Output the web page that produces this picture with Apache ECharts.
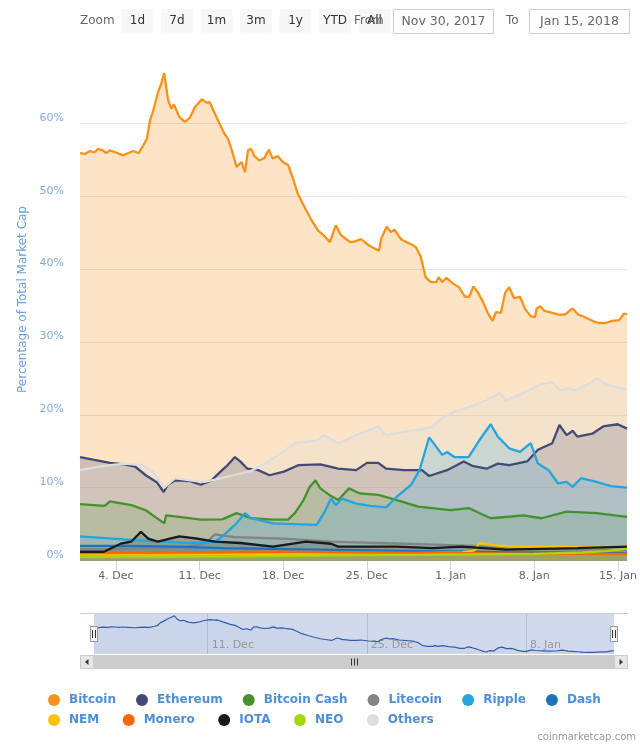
<!DOCTYPE html>
<html><head><meta charset="utf-8">
<script src="https://cdn.jsdelivr.net/npm/echarts@6/dist/echarts.min.js"></script>
<style>html,body{margin:0;padding:0;background:#fff}#c{width:640px;height:747px}</style>
</head><body><div id="c"></div>
<script>
// x values are days since Dec 1, 2017 00:00; y values are % of total market cap
const seriesNames = ['Bitcoin','Ethereum','Bitcoin Cash','Litecoin','Ripple','Dash','NEM','Monero','IOTA','NEO','Others'];
const seriesColors = ['#f7931a','#454a75','#45902f','#838383','#25a5de','#1c75bc','#fcc400','#ff6600','#1a1a1a','#a8d610','#dddddd'];

const bitcoin = [[0,55.9],[0.4,55.8],[0.83,56.2],[1.2,56.0],[1.5,56.5],[1.9,56.3],[2.2,55.9],[2.5,56.3],[3.0,56.0],[3.6,55.6],[4.0,55.9],[4.45,56.2],[4.9,55.9],[5.3,57.0],[5.6,57.9],[5.85,60.4],[6.1,61.6],[6.5,64.1],[6.8,65.5],[7.04,66.9],[7.37,63.2],[7.65,62.0],[7.85,62.6],[8.3,60.9],[8.76,60.2],[9.2,60.8],[9.6,62.2],[10.2,63.3],[10.6,62.8],[10.85,62.9],[11.4,60.9],[12.0,58.8],[12.4,57.8],[12.7,56.3],[13.1,54.0],[13.5,54.7],[13.8,53.3],[14.05,56.3],[14.3,56.5],[14.6,55.5],[15.0,54.9],[15.4,55.2],[15.8,56.4],[16.1,55.2],[16.55,55.5],[16.97,54.7],[17.4,54.3],[17.8,52.5],[18.2,50.4],[18.9,48.1],[19.3,46.9],[19.9,45.3],[20.4,44.6],[20.9,43.7],[21.4,46.0],[21.8,44.7],[22.2,44.2],[22.6,43.7],[23.0,43.8],[23.5,44.1],[24.2,43.2],[25.0,42.5],[25.2,44.2],[25.65,45.8],[26.0,45.1],[26.3,45.4],[26.85,44.1],[27.3,43.7],[27.7,43.4],[28.1,43.0],[28.5,41.7],[28.9,38.9],[29.35,38.2],[29.8,38.2],[30.0,38.9],[30.3,38.2],[30.65,38.8],[31.2,38.0],[31.7,37.5],[32.2,36.2],[32.55,36.2],[32.9,37.6],[33.25,36.9],[33.7,35.5],[34.1,34.0],[34.5,32.9],[34.8,34.1],[35.2,34.0],[35.55,36.7],[35.9,37.5],[36.3,36.0],[36.8,36.2],[37.2,34.6],[37.7,33.5],[38.05,33.4],[38.2,34.6],[38.5,34.9],[38.8,34.3],[39.5,34.0],[40.1,33.7],[40.6,33.8],[41.2,34.6],[41.7,33.7],[42.1,33.5],[42.6,33.1],[43.0,32.8],[43.4,32.6],[43.96,32.6],[44.5,32.9],[45.1,33.0],[45.5,33.9],[45.75,33.8]];
const ethereum = [[0,14.2],[1.2,13.8],[2.5,13.4],[3.7,13.2],[4.6,12.9],[5.5,11.7],[6.45,10.7],[7.0,9.4],[7.35,10.4],[7.96,11.0],[9.2,10.9],[10.1,10.4],[11.0,11.0],[11.75,12.2],[12.35,13.1],[12.96,14.2],[13.4,13.6],[14.0,12.6],[14.9,12.4],[15.85,11.7],[17.05,12.2],[18.3,13.1],[20.1,13.2],[21.6,12.6],[23.1,12.4],[24.0,13.4],[24.95,13.4],[25.6,12.6],[27.1,12.4],[28.6,12.4],[29.2,11.6],[30.7,12.4],[32.1,13.6],[32.8,13.0],[34.0,12.6],[34.95,13.3],[35.9,13.1],[37.4,13.6],[38.3,15.2],[39.5,16.1],[40.1,18.6],[40.7,17.2],[41.2,17.8],[41.6,17.0],[42.85,17.4],[43.75,18.4],[44.97,18.7],[45.75,18.1]];
const bitcoinCash = [[0,7.75],[2.05,7.5],[2.5,8.1],[4.3,7.6],[5.5,6.9],[7.05,5.1],[7.2,6.2],[8.3,6.0],[10.1,5.6],[11.9,5.65],[13.1,6.5],[14.3,5.8],[16.15,5.6],[17.4,5.6],[17.97,6.5],[18.7,8.3],[19.2,10.1],[19.7,11.0],[20.1,9.9],[20.85,9.0],[21.6,8.3],[22.5,9.9],[23.4,9.2],[24.95,9.0],[26.5,8.3],[28.3,7.4],[31.0,6.9],[32.5,7.2],[34.35,5.8],[37.1,6.2],[38.6,5.8],[40.7,6.7],[43.2,6.5],[45.75,6.0]];
const litecoin = [[0,1.6],[3,1.6],[6,1.7],[9,1.9],[10.5,2.4],[11.3,3.6],[12,3.4],[13,3.2],[15,3.1],[17,3.0],[19,2.8],[21,2.6],[23,2.5],[25,2.4],[27,2.3],[29,2.2],[31,2.1],[33,2.0],[35,1.8],[37,1.7],[39,1.6],[41,1.5],[43,1.4],[45.75,1.4]];
const ripple = [[0,3.3],[3.7,2.9],[6.75,2.6],[9.2,2.4],[11.3,2.6],[11.9,3.3],[13.1,5.1],[13.8,6.5],[14.3,5.8],[16.15,5.1],[17.97,5.0],[19.8,4.9],[20.4,6.5],[21.0,8.5],[21.4,7.6],[21.9,8.5],[23.1,7.8],[24.3,7.5],[25.6,7.3],[26.5,8.75],[27.7,10.4],[28.4,12.4],[28.9,15.2],[29.2,16.9],[29.8,15.6],[30.3,14.5],[30.7,14.9],[31.3,14.2],[32.5,14.2],[33.4,16.5],[34.35,18.7],[34.95,17.0],[35.9,15.4],[36.8,14.9],[37.7,16.1],[38.3,13.3],[39.2,12.4],[39.97,10.6],[40.7,10.8],[41.2,10.1],[41.9,11.3],[43.2,10.8],[44.4,10.2],[45.75,10.0]];
const dash = [[0,2.0],[4,2.0],[8,1.9],[12,1.7],[16,1.6],[20,1.5],[24,1.4],[28,1.3],[32,1.2],[36,1.1],[40,1.1],[45.75,1.0]];
const nem = [[0,0.8],[10,0.8],[20,0.9],[28,1.0],[32,1.1],[33.0,1.4],[33.4,2.4],[34.5,2.1],[36,1.9],[38,1.9],[40,1.9],[42,1.8],[44,1.9],[45.75,2.0]];
const monero = [[0,1.0],[8,1.1],[16,1.2],[24,1.1],[32,1.0],[40,0.9],[45.75,0.9]];
const iota = [[0,1.2],[2,1.2],[3.4,2.3],[4.3,2.6],[5.1,3.95],[5.7,3.0],[6.5,2.6],[8.3,3.3],[9.8,3.0],[11.3,2.6],[13.4,2.4],[16.15,1.9],[18.9,2.6],[21,2.3],[21.6,1.9],[26.5,1.9],[29.5,1.7],[31.9,1.9],[35.6,1.5],[41.6,1.7],[45.75,1.9]];
const neo = [[0,0.5],[8,0.5],[15,0.6],[22,0.7],[30,0.8],[38,0.9],[42,1.1],[44,1.3],[45.75,1.6]];
const others = [[0,12.4],[1.6,12.9],[3.7,13.3],[5.2,13.1],[6.1,12.2],[7.05,10.0],[7.96,11.3],[9.2,11.0],[10.4,10.8],[11.3,11.1],[12.8,11.7],[14.3,12.3],[15.5,13.3],[16.76,14.7],[17.97,16.1],[19.8,16.5],[20.4,17.2],[21.6,16.1],[23.1,17.2],[24.95,18.4],[25.6,17.2],[27.1,17.7],[28.3,17.9],[29.5,18.4],[30.2,19.5],[31.3,20.4],[32.6,21.1],[34.0,22.0],[35.1,23.0],[35.6,22.0],[36.7,22.7],[38.4,24.1],[39.5,24.5],[40.1,23.4],[40.8,23.6],[41.5,23.4],[42.6,24.3],[43.2,25.0],[43.96,24.3],[44.8,23.8],[45.75,23.5]];

const xTickDays = [3,10,17,24,31,38,45];
const xTickLabels = ['4. Dec','11. Dec','18. Dec','25. Dec','1. Jan','8. Jan','15. Jan'];
const navTickDays = [10,24,38];
const navTickLabels = ['11. Dec','25. Dec','8. Jan'];
const xMin = 0, xMax = 45.75;
const rangeButtons = ['1d','7d','1m','3m','1y','YTD','All'];
const fromText = 'Nov 30, 2017', toText = 'Jan 15, 2018';

const allData = [bitcoin, ethereum, bitcoinCash, litecoin, ripple, dash, nem, monero, iota, neo, others];
const FONT = 'DejaVu Sans';

const series = seriesNames.map((n, i) => ({
  name: n, type: 'line', data: allData[i], xAxisIndex: 0, yAxisIndex: 0,
  showSymbol: false, symbol: 'none', animation: false,
  lineStyle: { width: 2.3, color: seriesColors[i] },
  itemStyle: { color: seriesColors[i] },
  areaStyle: { color: seriesColors[i], opacity: 0.25 },
  emphasis: { disabled: true }
}));
series.push({
  name: 'nav', type: 'line', data: bitcoin, xAxisIndex: 1, yAxisIndex: 1,
  showSymbol: false, symbol: 'none', silent: true,
  lineStyle: { width: 1.2, color: '#335cad' },
  areaStyle: { color: 'rgba(51,92,173,0.05)' },
  markLine: { silent: true, symbol: 'none', label: { show: false },
    lineStyle: { color: 'rgba(60,70,90,0.18)', type: 'solid', width: 1 },
    data: navTickDays.map(d => ({ xAxis: d })) }
});

const graphic = [];
graphic.push({ type: 'text', x: 80, y: 21, style: { text: 'Zoom', fill: '#666', font: '12px ' + FONT, verticalAlign: 'middle' } });
rangeButtons.forEach((b, i) => {
  const cx = 137.5 + 39.5 * i;
  graphic.push({ type: 'rect', shape: { x: cx - 16, y: 9, width: 32, height: 24, r: 2 }, style: { fill: '#f7f7f7' } });
  graphic.push({ type: 'text', x: cx, y: 21, style: { text: b, fill: '#333', font: '12px ' + FONT, align: 'center', verticalAlign: 'middle' } });
});
graphic.push({ type: 'text', x: 354, y: 21, style: { text: 'From', fill: '#666', font: '12px ' + FONT, verticalAlign: 'middle' } });
graphic.push({ type: 'rect', shape: { x: 393.5, y: 9.5, width: 100, height: 24 }, style: { fill: '#fff', stroke: '#cccccc', lineWidth: 1 } });
graphic.push({ type: 'text', x: 443.5, y: 21.5, style: { text: fromText, fill: '#666', font: '12.5px ' + FONT, align: 'center', verticalAlign: 'middle' } });
graphic.push({ type: 'text', x: 506, y: 21, style: { text: 'To', fill: '#666', font: '12px ' + FONT, verticalAlign: 'middle' } });
graphic.push({ type: 'rect', shape: { x: 529.5, y: 9.5, width: 100, height: 24 }, style: { fill: '#fff', stroke: '#cccccc', lineWidth: 1 } });
graphic.push({ type: 'text', x: 579.5, y: 21.5, style: { text: toText, fill: '#666', font: '12.5px ' + FONT, align: 'center', verticalAlign: 'middle' } });
// navigator chrome
graphic.push({ type: 'line', shape: { x1: 80, y1: 613.5, x2: 628, y2: 613.5 }, style: { stroke: '#cccccc', lineWidth: 1 }, z: 10 });
[94, 614].forEach(hx => {
  graphic.push({ type: 'rect', shape: { x: hx - 3.5, y: 626.5, width: 7, height: 15 }, style: { fill: '#f2f2f2', stroke: '#999', lineWidth: 1 }, z: 11 });
  graphic.push({ type: 'line', shape: { x1: hx - 1.5, y1: 630, x2: hx - 1.5, y2: 638 }, style: { stroke: '#333', lineWidth: 1 }, z: 12 });
  graphic.push({ type: 'line', shape: { x1: hx + 1.5, y1: 630, x2: hx + 1.5, y2: 638 }, style: { stroke: '#333', lineWidth: 1 }, z: 12 });
});
// scrollbar
graphic.push({ type: 'rect', shape: { x: 80, y: 655, width: 548, height: 14 }, style: { fill: '#f2f2f2' } });
graphic.push({ type: 'rect', shape: { x: 94, y: 655, width: 520, height: 14 }, style: { fill: '#cccccc' } });
graphic.push({ type: 'rect', shape: { x: 80.5, y: 655.5, width: 13, height: 13 }, style: { fill: '#e6e6e6', stroke: '#cccccc' } });
graphic.push({ type: 'rect', shape: { x: 614.5, y: 655.5, width: 13, height: 13 }, style: { fill: '#e6e6e6', stroke: '#cccccc' } });
graphic.push({ type: 'polygon', shape: { points: [[88.5, 659], [88.5, 665], [85, 662]] }, style: { fill: '#333' } });
graphic.push({ type: 'polygon', shape: { points: [[619.5, 659], [619.5, 665], [623, 662]] }, style: { fill: '#333' } });
[351.5, 354.5, 357.5].forEach(rx => graphic.push({ type: 'line', shape: { x1: rx, y1: 658.5, x2: rx, y2: 665.5 }, style: { stroke: '#333', lineWidth: 1 } }));
// credit
graphic.push({ type: 'text', x: 636, y: 737, style: { text: 'coinmarketcap.com', fill: '#999', font: '10px ' + FONT, align: 'right', verticalAlign: 'middle' } });

const legendBase = {
  orient: 'horizontal', icon: 'circle', itemWidth: 20, itemHeight: 12, itemGap: 20,
  selectedMode: false,
  textStyle: { color: '#4f8fd6', fontWeight: 'bold', fontSize: 12, fontFamily: FONT }
};

const option = {
  animation: false,
  backgroundColor: '#fff',
  grid: [
    { left: 80, right: 12, top: 50.5, bottom: 186.5 },
    { left: 94, right: 26, top: 614, height: 40, show: true, backgroundColor: 'rgba(102,133,194,0.3)', borderWidth: 0 }
  ],
  legend: [
    Object.assign({}, legendBase, { left: 43, top: 689, data: seriesNames.slice(0, 6) }),
    Object.assign({}, legendBase, { left: 43, top: 709, itemGap: 23.5, data: seriesNames.slice(6) })
  ],
  xAxis: [
    { type: 'value', gridIndex: 0, min: xMin, max: xMax,
      axisLine: { lineStyle: { color: '#ccd6eb' } },
      axisTick: { customValues: xTickDays, length: 10, lineStyle: { color: '#ccd6eb' } },
      axisLabel: { customValues: xTickDays, color: '#666', fontSize: 11, fontFamily: FONT, margin: 10,
        formatter: v => xTickLabels[xTickDays.indexOf(v)] || '' },
      splitLine: { show: false } },
    { type: 'value', gridIndex: 1, min: xMin, max: xMax,
      axisLine: { show: false }, axisTick: { show: false }, splitLine: { show: false },
      axisLabel: { customValues: navTickDays, inside: true, color: '#999', fontSize: 11, fontFamily: FONT,
        align: 'left', margin: 3, padding: [0, 0, 0, 4],
        formatter: v => navTickLabels[navTickDays.indexOf(v)] || '' } }
  ],
  yAxis: [
    { type: 'value', gridIndex: 0, min: 0, max: 70, interval: 10,
      name: 'Percentage of Total Market Cap', nameLocation: 'middle', nameGap: 50,
      nameTextStyle: { color: '#6d9fd9', fontSize: 12, fontFamily: FONT, padding: [0, 0, 0, 12] },
      axisLine: { show: false }, axisTick: { show: false },
      axisLabel: { formatter: '{value}%', color: '#85ace0', fontSize: 11, fontFamily: FONT, margin: 16,
        verticalAlign: 'bottom', showMaxLabel: false },
      splitLine: { showMaxLine: false, lineStyle: { color: '#e6e6e6' } } },
    { type: 'value', gridIndex: 1, min: 31, max: 68.5, show: false, splitLine: { show: false } }
  ],
  series: series,
  graphic: graphic
};
const chart = echarts.init(document.getElementById('c'), null, { renderer: 'canvas' });
chart.setOption(option);
</script></body></html>
